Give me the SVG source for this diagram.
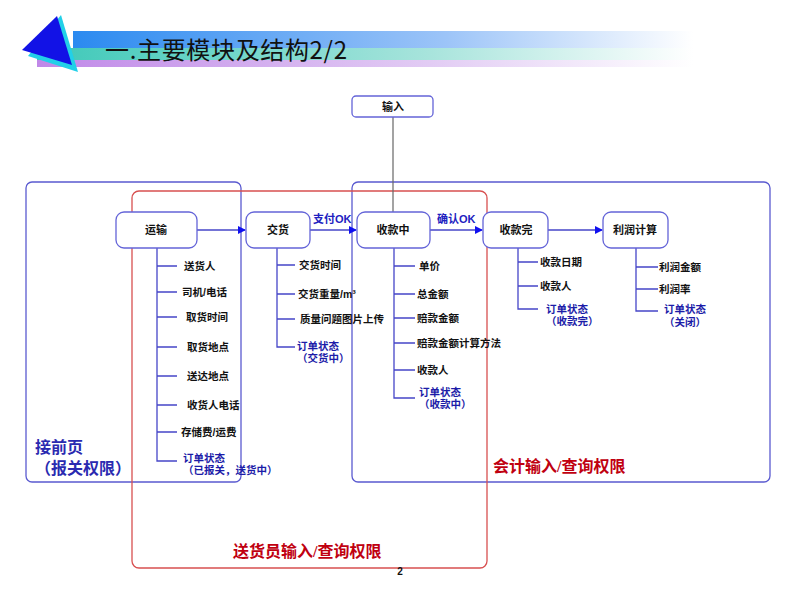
<svg xmlns="http://www.w3.org/2000/svg" width="800" height="596" viewBox="0 0 800 596">
<defs>
<linearGradient id="gBlue" x1="0" x2="1" y1="0" y2="0"><stop offset="0" stop-color="#2b8af0"/><stop offset="0.6" stop-color="#9cc4f8"/><stop offset="1" stop-color="#ffffff"/></linearGradient>
<linearGradient id="gTeal" x1="0" x2="1" y1="0" y2="0"><stop offset="0" stop-color="#3cc8b8"/><stop offset="0.6" stop-color="#a8e4dc"/><stop offset="1" stop-color="#ffffff"/></linearGradient>
<linearGradient id="gPurp" x1="0" x2="1" y1="0" y2="0"><stop offset="0" stop-color="#c088e8"/><stop offset="0.6" stop-color="#e2ccf4"/><stop offset="1" stop-color="#ffffff"/></linearGradient>
<marker id="arr" markerWidth="8" markerHeight="8" refX="7" refY="4" orient="auto" markerUnits="userSpaceOnUse"><path d="M0,0 L8,4 L0,8 Z" fill="#1010f0"/></marker>
</defs>
<style>
.node rect{fill:#fff;stroke:#6464d8;stroke-width:1.3}
.nt{font-family:"Liberation Sans","Noto Sans CJK SC",sans-serif;font-size:11px;font-weight:bold;fill:#111;text-anchor:middle}
.it{font-family:"Liberation Sans","Noto Sans CJK SC",sans-serif;font-size:10.5px;font-weight:bold;fill:#111}
.st{font-family:"Liberation Sans","Noto Sans CJK SC",sans-serif;font-size:10.5px;font-weight:bold;fill:#1c1ca8}
.lbl{font-family:"Liberation Sans","Noto Sans CJK SC",sans-serif;font-size:11px;font-weight:bold;fill:#2020c0}
.tree{stroke:#4646c8;stroke-width:1.3;fill:none}
.zone{fill:none;stroke-width:1.3}
.red{font-family:"Liberation Serif","Noto Sans CJK SC",serif;font-size:16px;font-weight:bold;fill:#c00010}
.blu{font-family:"Liberation Serif","Noto Sans CJK SC",serif;font-size:16px;font-weight:bold;fill:#2a2ab0}
</style>
<rect width="800" height="596" fill="#fff"/>
<g id="title">
<rect x="73" y="31" width="620" height="17" fill="url(#gBlue)"/>
<rect x="37" y="48" width="656" height="12" fill="url(#gTeal)"/>
<rect x="37" y="60" width="656" height="7" fill="url(#gPurp)"/>
<polygon points="28,56 61,15 78,72" fill="#22d0e8"/>
<polygon points="22,50 57,16 72,65" fill="#1212e6"/>
<text x="105" y="59" font-family="Noto Sans CJK SC,sans-serif" font-size="24" fill="#111" textLength="242" lengthAdjust="spacing">一.主要模块及结构2/2</text>
</g>
<g id="zones">
<rect class="zone" x="26" y="182" width="215" height="300" rx="6" stroke="#5a5ad0"/>
<rect class="zone" x="352" y="182" width="418" height="300" rx="6" stroke="#5a5ad0"/>
<rect class="zone" x="132" y="191" width="355" height="377" rx="7" stroke="#d85050"/>
<text class="blu" x="35" y="453">接前页</text>
<text class="blu" x="35" y="474">（报关权限）</text>
<text class="red" x="493" y="472">会计输入/查询权限</text>
<text class="red" x="233" y="557">送货员输入/查询权限</text>
<text x="400" y="575" font-family="Liberation Sans,sans-serif" font-size="10" font-weight="bold" fill="#111" text-anchor="middle">2</text>
</g>
<g id="connectors">
<line x1="393" y1="117" x2="393" y2="212" stroke="#666" stroke-width="1.2"/>
<line x1="197" y1="230" x2="245" y2="230" class="tree" marker-end="url(#arr)"/>
<line x1="310" y1="230" x2="356" y2="230" class="tree" marker-end="url(#arr)"/>
<line x1="430" y1="230" x2="482" y2="230" class="tree" marker-end="url(#arr)"/>
<line x1="548" y1="230" x2="602" y2="230" class="tree" marker-end="url(#arr)"/>
<text class="lbl" x="313" y="223">支付OK</text>
<text class="lbl" x="437" y="223">确认OK</text>
<path class="tree" d="M157,248 V461 H177 M157,266 H177 M157,292 H177 M157,317 H177 M157,347 H177 M157,376 H177 M157,405 H177 M157,432 H177"/>
<path class="tree" d="M277,248 V347 H295 M277,265 H295 M277,294 H295 M277,319 H295"/>
<path class="tree" d="M394,248 V398 H415 M394,266 H415 M394,294 H415 M394,318 H415 M394,343 H415 M394,370 H415"/>
<path class="tree" d="M518,248 V309 H538 M518,262 H538 M518,286 H538"/>
<path class="tree" d="M636,248 V311 H658 M636,267 H658 M636,289 H658"/>
</g>
<g id="n-input" class="node"><rect x="352" y="96" width="81" height="21" rx="4"/><text class="nt" x="393" y="111" font-size="13">输入</text></g>
<g id="n-yunshu" class="node"><rect x="116" y="212" width="81" height="36" rx="8"/><text class="nt" x="156" y="234">运输</text></g>
<g id="n-jiaohuo" class="node"><rect x="246" y="212" width="64" height="36" rx="8"/><text class="nt" x="278" y="234">交货</text></g>
<g id="n-shoukuanzhong" class="node"><rect x="357" y="212" width="73" height="36" rx="8"/><text class="nt" x="393" y="234">收款中</text></g>
<g id="n-shoukuanwan" class="node"><rect x="483" y="212" width="65" height="36" rx="8"/><text class="nt" x="516" y="234">收款完</text></g>
<g id="n-lirun" class="node"><rect x="603" y="212" width="65" height="36" rx="8"/><text class="nt" x="635" y="234">利润计算</text></g>
<g id="items-yunshu">
<text class="it" x="184" y="270">送货人</text>
<text class="it" x="182" y="296">司机/电话</text>
<text class="it" x="186" y="321">取货时间</text>
<text class="it" x="187" y="351">取货地点</text>
<text class="it" x="187" y="380">送达地点</text>
<text class="it" x="187" y="409">收货人电话</text>
<text class="it" x="181" y="436">存储费/运费</text>
<text class="st" x="183" y="462">订单状态</text>
<text class="st" x="183" y="474">（已报关，送货中）</text>
</g>
<g id="items-jiaohuo">
<text class="it" x="299" y="269">交货时间</text>
<text class="it" x="298" y="298">交货重量/m³</text>
<text class="it" x="300" y="323">质量问题图片上传</text>
<text class="st" x="297" y="350">订单状态</text>
<text class="st" x="297" y="362">（交货中）</text>
</g>
<g id="items-shoukuanzhong">
<text class="it" x="419" y="270">单价</text>
<text class="it" x="417" y="298">总金额</text>
<text class="it" x="417" y="322">赔款金额</text>
<text class="it" x="417" y="347">赔款金额计算方法</text>
<text class="it" x="417" y="374">收款人</text>
<text class="st" x="419" y="396">订单状态</text>
<text class="st" x="419" y="408">（收款中）</text>
</g>
<g id="items-shoukuanwan">
<text class="it" x="540" y="266">收款日期</text>
<text class="it" x="540" y="290">收款人</text>
<text class="st" x="546" y="313">订单状态</text>
<text class="st" x="546" y="325">（收款完）</text>
</g>
<g id="items-lirun">
<text class="it" x="659" y="271">利润金额</text>
<text class="it" x="659" y="293">利润率</text>
<text class="st" x="664" y="313">订单状态</text>
<text class="st" x="664" y="326">（关闭）</text>
</g>
</svg>
